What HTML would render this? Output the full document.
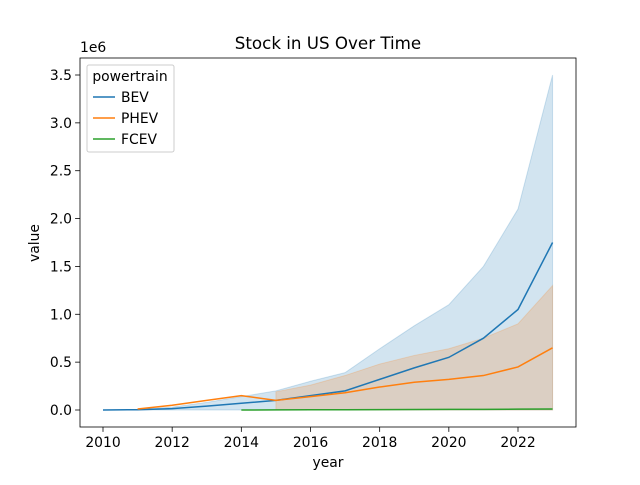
<!DOCTYPE html>
<html><head><meta charset="utf-8"><style>
body{margin:0;background:#fff;font-family:"Liberation Sans","DejaVu Sans",sans-serif;}
svg text{font-family:"DejaVu Sans","Liberation Sans",sans-serif;}
</style></head><body>
<svg width="640" height="480" xmlns="http://www.w3.org/2000/svg">
<g id="bands"></g><g id="lines"></g><g id="axes"></g>
</svg>
<script>
const years=[2010,2011,2012,2013,2014,2015,2016,2017,2018,2019,2020,2021,2022,2023];
const bevMean=[0,0.003,0.015,0.04,0.07,0.1,0.15,0.2,0.32,0.44,0.55,0.75,1.05,1.75];
const bevUpper=[0,0.006,0.03,0.08,0.14,0.2,0.3,0.39,0.64,0.88,1.1,1.5,2.1,3.5];
const bevLower=[0,0,0,0,0,0,0,0,0,0,0,0,0,0];
const phevYears=[2011,2012,2013,2014,2015,2016,2017,2018,2019,2020,2021,2022,2023];
const phevMean=[0.01,0.05,0.1,0.15,0.1,0.14,0.18,0.24,0.29,0.32,0.36,0.45,0.65];
const phevBandYears=[2015,2016,2017,2018,2019,2020,2021,2022,2023];
const phevUpper=[0.19,0.26,0.36,0.48,0.57,0.64,0.75,0.9,1.3];
const phevLower=[0,0,0,0,0,0,0,0,0];
const fcevYears=[2014,2015,2016,2017,2018,2019,2020,2021,2022,2023];
const fcevMean=[0,0.001,0.002,0.003,0.004,0.005,0.006,0.007,0.009,0.011];
const xTicks=[2010,2012,2014,2016,2018,2020,2022];
const yTicks=[0,0.5,1.0,1.5,2.0,2.5,3.0,3.5];
const NS='http://www.w3.org/2000/svg';
const L=80,R=576,T=58,B=427;
const X=v=>103+(v-2010)*(518-103)/12;
const Y=v=>410-v*(410-75)/3.5;
function mk(tag,attrs,parent,text){const e=document.createElementNS(NS,tag);for(const k in attrs)e.setAttribute(k,attrs[k]);if(text!==undefined)e.textContent=text;document.getElementById(parent).appendChild(e);return e;}
function band(xs,up,lo,color,name){
  let d='M'+xs.map((x,i)=>X(x)+','+Y(up[i])).join('L');
  d+='L'+xs.map((x,i)=>X(x)+','+Y(lo[i])).reverse().join('L')+'Z';
  const e=mk('path',{d:d,fill:color,'fill-opacity':0.2,stroke:color,'stroke-opacity':0.2},'bands');
  
  
}
function line(xs,ys,color,name){
  const e=mk('polyline',{points:xs.map((x,i)=>X(x)+','+Y(ys[i])).join(' '),fill:'none',stroke:color,'stroke-width':1.5},'lines');
  
  
}
band(years,bevUpper,bevLower,'#1f77b4','bev-band');
band(phevBandYears,phevUpper,phevLower,'#ff7f0e','phev-band');
line(years,bevMean,'#1f77b4','bev-line');
line(phevYears,phevMean,'#ff7f0e','phev-line');
line(fcevYears,fcevMean,'#2ca02c','fcev-line');
let f=mk('rect',{x:L,y:T,width:R-L,height:B-T,fill:'none',stroke:'#000','stroke-width':0.8},'axes');

xTicks.forEach(t=>{mk('line',{x1:X(t),x2:X(t),y1:B,y2:B+4.9,stroke:'#000','stroke-width':0.8},'axes');
 const e=mk('text',{x:X(t),y:B+20,'font-size':13.9,'text-anchor':'middle'},'axes',t);
 });
yTicks.forEach(t=>{mk('line',{x1:L-4.9,x2:L,y1:Y(t),y2:Y(t),stroke:'#000','stroke-width':0.8},'axes');
 const e=mk('text',{x:L-8,y:Y(t)+5,'font-size':13.9,'text-anchor':'end'},'axes',t.toFixed(1));
 });
</script>
<svg width="640" height="480" style="position:absolute;left:0;top:0" xmlns="http://www.w3.org/2000/svg">
<text x="328" y="49" font-size="16.7" text-anchor="middle" style="font-family:'DejaVu Sans',sans-serif">Stock in US Over Time</text>
<text x="80" y="52" font-size="13.9" style="font-family:'DejaVu Sans',sans-serif">1e6</text>
<text x="328" y="467" font-size="13.9" text-anchor="middle" style="font-family:'DejaVu Sans',sans-serif">year</text>
<text x="39" y="243" font-size="13.9" text-anchor="middle" transform="rotate(-90 39 243)" style="font-family:'DejaVu Sans',sans-serif">value</text>
<g style="font-family:'DejaVu Sans',sans-serif" font-size="13.9">
<rect x="87" y="65" width="87" height="87" rx="2" fill="#fff" fill-opacity="0.8" stroke="#ccc"/>
<text x="130" y="81" text-anchor="middle">powertrain</text>
<line x1="93" x2="115" y1="97" y2="97" stroke="#1f77b4" stroke-width="1.5"/><text x="121" y="102">BEV</text>
<line x1="93" x2="115" y1="118" y2="118" stroke="#ff7f0e" stroke-width="1.5"/><text x="121" y="123">PHEV</text>
<line x1="93" x2="115" y1="139" y2="139" stroke="#2ca02c" stroke-width="1.5"/><text x="121" y="144">FCEV</text>
</g>
</svg>
</body></html>
